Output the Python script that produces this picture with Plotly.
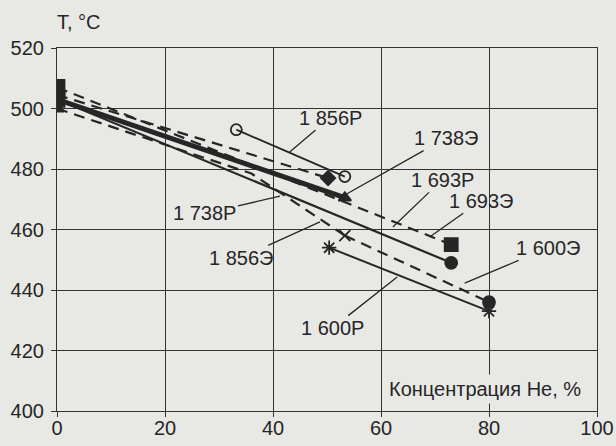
import plotly.graph_objects as go

# Helium concentration (%) and temperature (°C) for each run
x_1856R = [33.2, 53.3]
y_1856R = [493, 477.5]
x_1856E = [0, 36, 53.3]
y_1856E = [500, 478.5, 458]
x_1738R = [0, 53.3]
y_1738R = [503, 470.5]
x_1738E = [0, 50.2]
y_1738E = [504.5, 477]
x_1693R = [0, 73]
y_1693R = [503, 449]
x_1693E = [0, 73]
y_1693E = [507, 455]
x_1600R = [50.4, 80]
y_1600R = [454, 433]
x_1600E = [53.3, 80]
y_1600E = [458, 436]

x_ticks = [0, 20, 40, 60, 80, 100]
y_ticks = [400, 420, 440, 460, 480, 500, 520]

INK = "#262626"
BG = "#e8e8e5"
FONT = "Liberation Sans, Arial, sans-serif"
DASH = "11px,7px"
FS = 20

series = [
    ("1 856Э", x_1856E, y_1856E, dict(dash=DASH, width=2.2), ["triangle-up", "diamond", "x-thin-open"], [12, 0, 0]),
    ("1 600Э", x_1600E, y_1600E, dict(dash=DASH, width=2.2), ["x-thin-open", "circle"], [11, 12]),
    ("1 738Э", x_1738E, y_1738E, dict(dash=DASH, width=2.2), ["diamond", "diamond"], [0, 11]),
    ("1 693Э", x_1693E, y_1693E, dict(dash=DASH, width=2.2), ["square", "square"], [15, 13]),
    ("1 693Р", x_1693R, y_1693R, dict(dash="solid", width=2.2), ["square", "circle"], [15, 12]),
    ("1 738Р", x_1738R, y_1738R, dict(dash="solid", width=5), ["triangle-up", "triangle-up"], [0, 11]),
    ("1 856Р", x_1856R, y_1856R, dict(dash="solid", width=1.8), ["circle-open", "circle-open"], [11, 11]),
    ("1 600Р", x_1600R, y_1600R, dict(dash="solid", width=2), ["asterisk-open", "asterisk-open"], [12, 12]),
]

fig = go.Figure()
for name, xs, ys, line, symbols, sizes in series:
    fig.add_trace(go.Scatter(
        x=xs, y=ys, name=name, mode="lines+markers",
        line=dict(color=INK, **line),
        marker=dict(symbol=symbols, size=sizes, color=INK, opacity=1,
                    line=dict(color=INK, width=1.8)),
        showlegend=False,
    ))

# Leader-line labels: (text, label x, label y, tip x, tip y)
labels = [
    ("1 856Р", 50.6, 497.0, 43.1, 485.6),
    ("1 738Э", 72.0, 490.2, 53.3, 471.4),
    ("1 693Р", 71.3, 476.4, 62.2, 460.8),
    ("1 693Э", 78.5, 469.5, 69.0, 457.5),
    ("1 600Э", 91.0, 453.9, 75.5, 442.3),
    ("1 600Р", 51.0, 427.4, 63.0, 444.3),
    ("1 738Р", 27.4, 465.3, 41.3, 471.0),
    ("1 856Э", 34.0, 450.6, 48.7, 462.5),
]
for text, lx, ly, tx, ty in labels:
    fig.add_annotation(
        x=tx, y=ty, ax=lx, ay=ly, axref="x", ayref="y", xref="x", yref="y",
        text=text, showarrow=True, arrowhead=0, arrowwidth=1.3, arrowcolor=INK,
        font=dict(family=FONT, size=FS, color=INK),
    )

fig.add_annotation(
    x=79.3, y=407.3, xref="x", yref="y", text="Концентрация Не, %",
    showarrow=False, bgcolor=BG, borderpad=3,
    font=dict(family=FONT, size=FS, color=INK),
)
fig.add_annotation(
    x=-0.004, y=1.072, xref="paper", yref="paper", xanchor="left", yanchor="middle",
    text="T, °C", showarrow=False,
    font=dict(family=FONT, size=FS, color=INK),
)

axis_common = dict(
    showgrid=True, gridcolor="#333333", gridwidth=1.2,
    showline=True, linecolor="#333333", linewidth=1.2, mirror=True,
    ticks="outside", tickcolor="#333333",
    zeroline=False, automargin=False,
    tickfont=dict(family=FONT, size=FS, color=INK),
)
fig.update_xaxes(range=[0, 100], tickvals=x_ticks, ticklen=5, ticklabelstandoff=-6, **axis_common)
fig.update_yaxes(range=[400, 520], tickvals=y_ticks, ticklen=5, ticklabelstandoff=3, **axis_common)

fig.update_layout(
    width=616, height=446,
    margin=dict(l=57, r=19, t=48, b=35),
    paper_bgcolor=BG, plot_bgcolor=BG,
)

fig.write_html("out.html")
